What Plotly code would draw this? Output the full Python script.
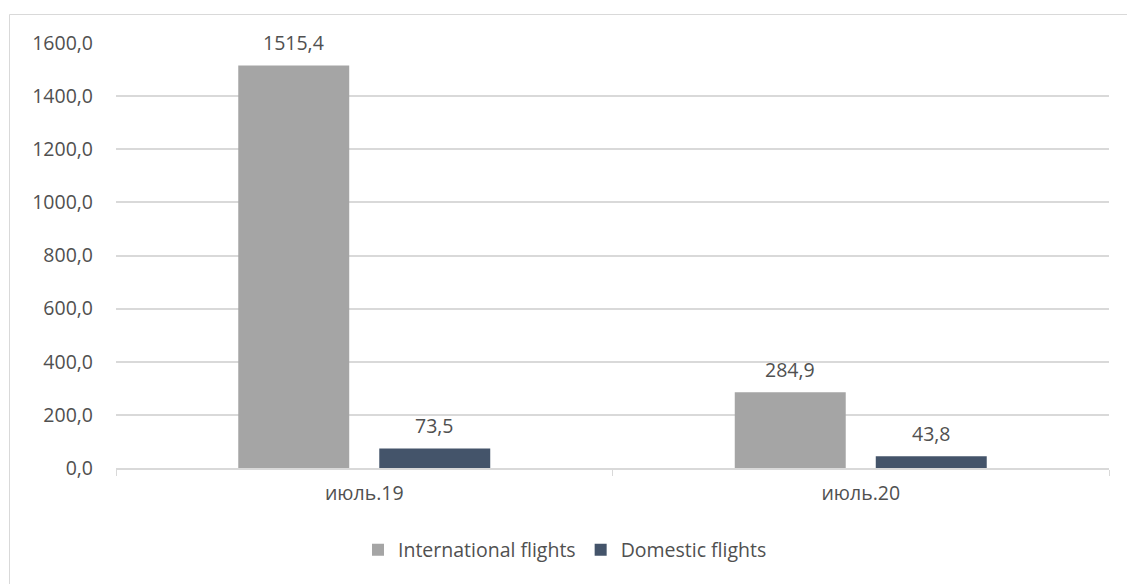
import plotly.graph_objects as go

categories = ["июль.19", "июль.20"]
international = [1515.4, 284.9]
domestic = [73.5, 43.8]
series_names = ["International flights", "Domestic flights"]
y_ticks = [0, 200, 400, 600, 800, 1000, 1200, 1400, 1600]

W, H = 1127, 584
ML, MR, MT, MB = 116, 18, 43, 116
PW, PH = W - ML - MR, H - MT - MB

TEXT = "#505050"
FONT = "Open Sans"
FS = 19.5

fig = go.Figure()
fig.add_trace(go.Bar(x=categories, y=international, name=series_names[0],
                     marker=dict(color="#A5A5A5", line=dict(width=0))))
fig.add_trace(go.Bar(x=categories, y=domestic, name=series_names[1],
                     marker=dict(color="#44546A", line=dict(width=0))))

# data labels
slot = PW / 2 * (1 - 0.432) / 2
for vals, sh in ((international, -slot / 2), (domestic, slot / 2)):
    for c, v in zip(categories, vals):
        fig.add_annotation(x=c, y=v, xref="x", yref="y", text=f"{v:.1f}".replace(".", ","),
                           showarrow=False, xshift=sh, yshift=23, yanchor="middle",
                           font=dict(family=FONT, size=FS, color=TEXT))

# outer frame
fx0 = (9.5 - ML) / PW
fy0 = (H - MB - 14.5) / PH
fig.add_shape(type="rect", xref="paper", yref="paper", x0=fx0, y0=-1.0, x1=1.5, y1=fy0,
              line=dict(color="#D9D9D9", width=1), fillcolor="rgba(0,0,0,0)", layer="below")

fig.update_layout(
    width=W, height=H,
    margin=dict(l=ML, r=MR, t=MT, b=MB, pad=0),
    paper_bgcolor="white", plot_bgcolor="white",
    barmode="group", bargap=0.432, bargroupgap=0.213,
    separators=", ",
    font=dict(family=FONT, size=FS, color=TEXT),
    showlegend=True,
    legend=dict(orientation="h", x=(565 - ML) / PW, xanchor="center",
                y=(H - MB - 550) / PH, yanchor="middle",
                font=dict(family=FONT, size=FS, color=TEXT),
                itemsizing="constant", traceorder="normal", bgcolor="rgba(0,0,0,0)"),
    xaxis=dict(type="category", showline=True, linecolor="#D9D9D9", linewidth=1.5,
               ticks="outside", tickson="boundaries", ticklen=6, tickcolor="#D9D9D9",
               showgrid=False, tickfont=dict(family=FONT, size=FS, color=TEXT),
               ticklabelstandoff=7),
    yaxis=dict(range=[0, 1600], tickvals=y_ticks, tickformat=".1f",
               showgrid=True, gridcolor="#D9D9D9", gridwidth=1.5,
               zeroline=False, showline=False, ticks="",
               tickfont=dict(family=FONT, size=FS, color=TEXT),
               ticklabelstandoff=22),
)

fig.write_html("out.html")
